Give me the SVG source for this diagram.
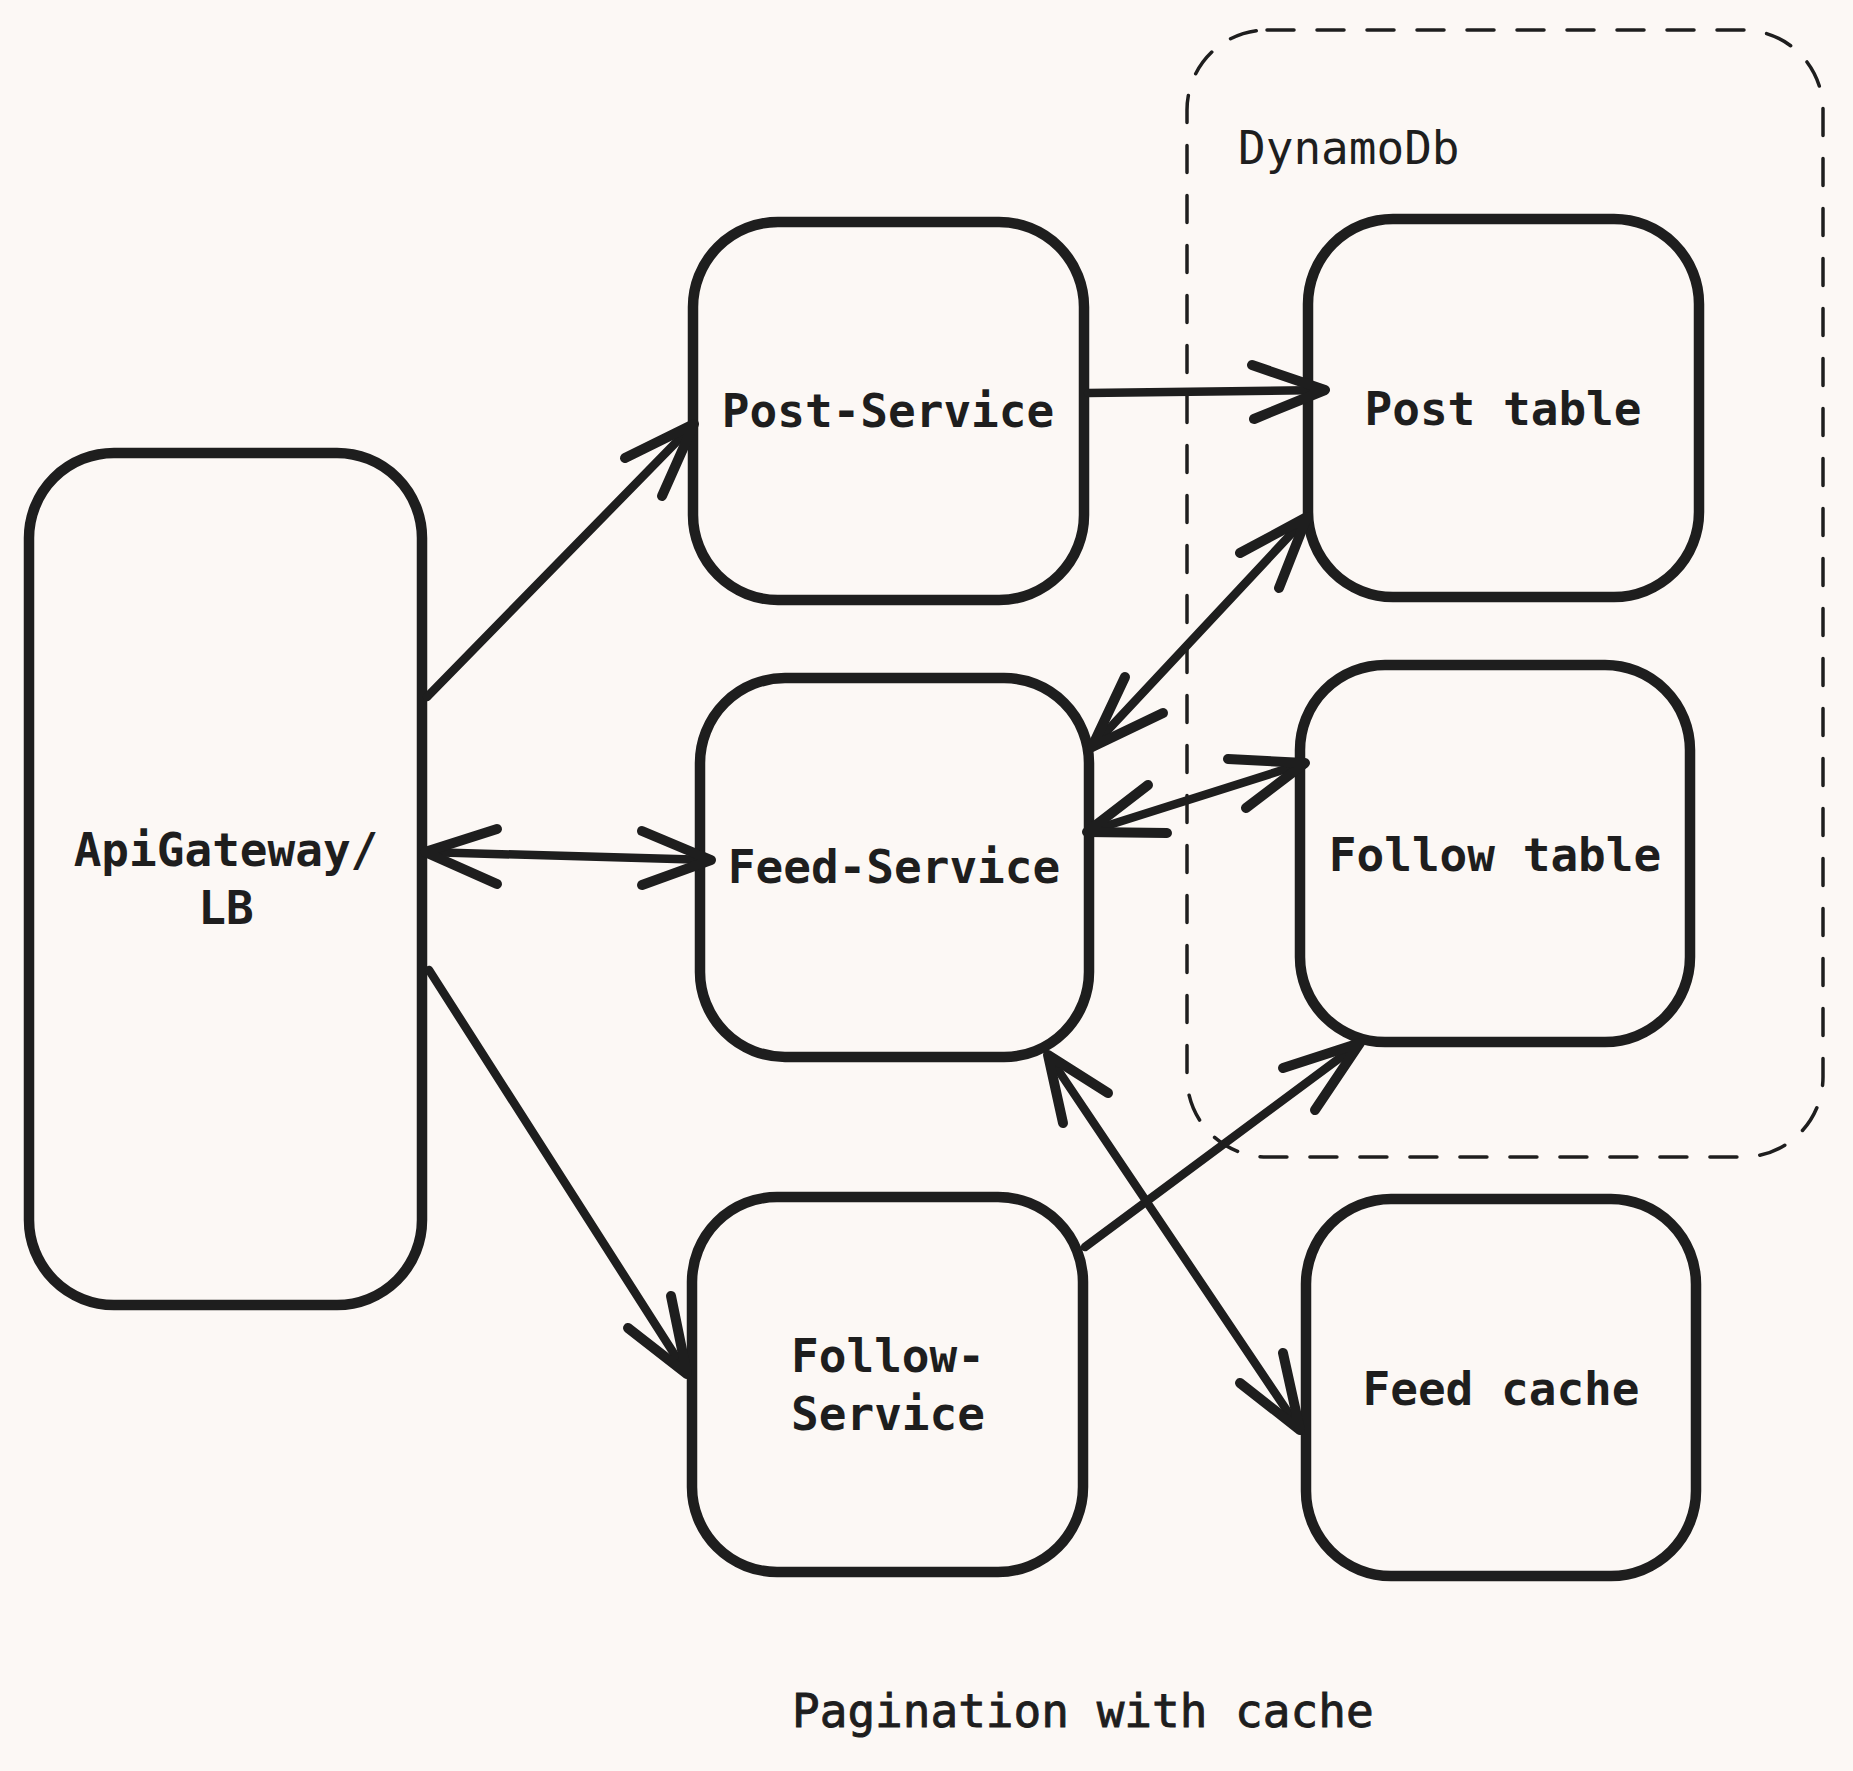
<svg xmlns="http://www.w3.org/2000/svg" width="1853" height="1771" viewBox="0 0 1853 1771">
<style>
.bg{fill:#fcf8f5}
.node{fill:none;stroke:#1e1e1e;stroke-width:10.5;stroke-linejoin:round}
.group{fill:none;stroke:#1e1e1e;stroke-width:3.5;stroke-dasharray:27 23;stroke-linecap:round}
.lbl{font-family:"DejaVu Sans Mono","Liberation Mono",monospace;font-size:46px;fill:#1e1e1e;font-weight:bold;text-anchor:middle}
.plain{font-family:"DejaVu Sans Mono","Liberation Mono",monospace;font-size:46px;fill:#1e1e1e}
.cap{stroke:#1e1e1e;stroke-width:0.9}
.line{fill:none;stroke:#1e1e1e;stroke-width:8.5;stroke-linecap:round}
.head{fill:none;stroke:#1e1e1e;stroke-width:10;stroke-linecap:round;stroke-linejoin:round}
</style>
<rect class="bg" x="0" y="0" width="1853" height="1771"/>
<g id="dynamodb">
<rect class="group" x="1187" y="30" width="636" height="1127" rx="80" ry="80"/>
<text class="plain" x="1238" y="164">DynamoDb</text>
</g>
<g id="apigateway">
<rect class="node" x="29" y="453" width="393" height="852" rx="85" ry="85"/>
<text class="lbl" x="226" y="866">ApiGateway/</text>
<text class="lbl" x="226" y="924">LB</text>
</g>
<g id="post-service">
<rect class="node" x="693" y="222" width="391" height="378" rx="85" ry="85"/>
<text class="lbl" x="888" y="427">Post-Service</text>
</g>
<g id="feed-service">
<rect class="node" x="700" y="678" width="389" height="379" rx="85" ry="85"/>
<text class="lbl" x="894" y="883">Feed-Service</text>
</g>
<g id="follow-service">
<rect class="node" x="692" y="1197" width="391" height="375" rx="85" ry="85"/>
<text class="lbl" x="888" y="1372">Follow-</text>
<text class="lbl" x="888" y="1430">Service</text>
</g>
<g id="post-table">
<rect class="node" x="1308" y="219" width="391" height="378" rx="85" ry="85"/>
<text class="lbl" x="1503" y="425">Post table</text>
</g>
<g id="follow-table">
<rect class="node" x="1300" y="665" width="390" height="377" rx="85" ry="85"/>
<text class="lbl" x="1495" y="871">Follow table</text>
</g>
<g id="feed-cache">
<rect class="node" x="1306" y="1199" width="390" height="377" rx="85" ry="85"/>
<text class="lbl" x="1501" y="1405">Feed cache</text>
</g>
<g id="connectors">
<line class="line" x1="427" y1="697" x2="694" y2="424"/>
<polyline class="head" points="625,458 694,424 662,496"/>
<line class="line" x1="1088" y1="393" x2="1325" y2="390"/>
<polyline class="head" points="1252,365 1325,390 1254,419"/>
<line class="line" x1="1092" y1="747" x2="1307" y2="517"/>
<polyline class="head" points="1240,553 1307,517 1279,588"/>
<polyline class="head" points="1125,677 1092,747 1163,713"/>
<line class="line" x1="1087" y1="832" x2="1305" y2="763"/>
<polyline class="head" points="1228,759 1305,763 1246,808"/>
<polyline class="head" points="1148,785 1087,832 1167,833"/>
<line class="line" x1="425" y1="852" x2="711" y2="860"/>
<polyline class="head" points="497,829 425,852 497,884"/>
<polyline class="head" points="642,831 711,860 642,885"/>
<line class="line" x1="429" y1="970" x2="687" y2="1374"/>
<polyline class="head" points="628,1328 687,1374 671,1296"/>
<line class="line" x1="1085" y1="1247" x2="1360" y2="1043"/>
<polyline class="head" points="1283,1068 1360,1043 1315,1110"/>
<line class="line" x1="1048" y1="1055" x2="1300" y2="1430"/>
<polyline class="head" points="1063,1123 1048,1055 1108,1093"/>
<polyline class="head" points="1240,1383 1300,1430 1283,1353"/>
</g>
<text class="plain cap" x="792" y="1727">Pagination with cache</text>
</svg>
